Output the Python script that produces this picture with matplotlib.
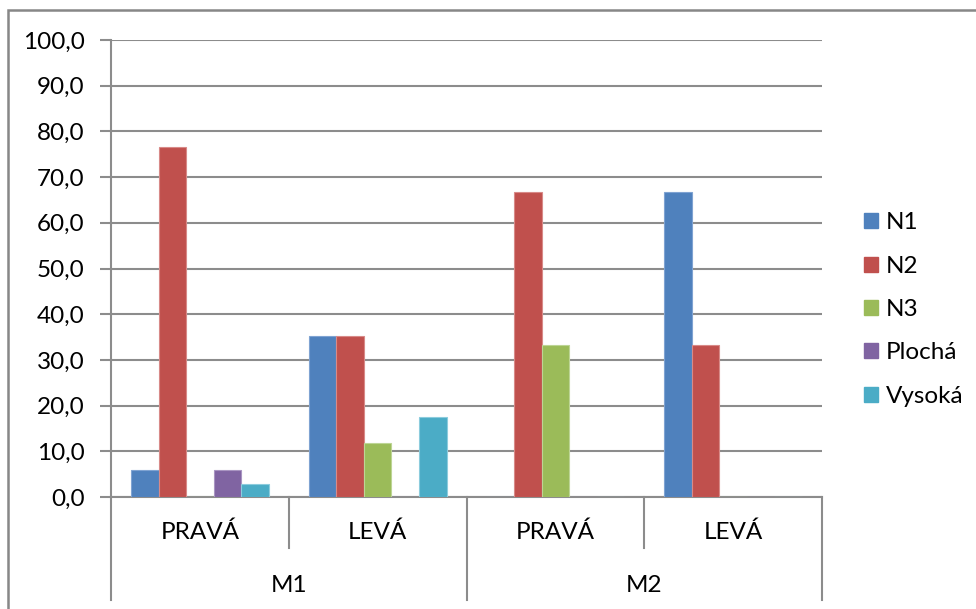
import numpy as np
import matplotlib.pyplot as plt
from matplotlib.patches import Rectangle, Patch
from matplotlib.lines import Line2D

# data
groups = ["M1", "M2"]
sides = ["PRAVÁ", "LEVÁ", "PRAVÁ", "LEVÁ"]
series = ["N1", "N2", "N3", "Plochá", "Vysoká"]
n1 = [5.9, 35.3, 0.0, 66.7]
n2 = [76.5, 35.3, 66.7, 33.3]
n3 = [0.0, 11.8, 33.3, 0.0]
plocha = [5.9, 0.0, 0.0, 0.0]
vysoka = [2.9, 17.6, 0.0, 0.0]
values = [n1, n2, n3, plocha, vysoka]
yticks = np.arange(0, 101, 10)

colors = ["#4F81BD", "#C0504D", "#9BBB59", "#8064A2", "#4BACC6"]
edges = ["#7FA3D2", "#D88A88", "#BDD595", "#A995C2", "#8CCCDD"]
grid_c = "#8C8C8C"

plt.rcParams["font.family"] = ["Lato", "DejaVu Sans"]
FS = 17.5

W, H = 976, 609
fig = plt.figure(figsize=(W / 100, H / 100), dpi=100)

# plot area in pixel terms
left, right, top, bottom = 111, 822, 40, 497
ax = fig.add_axes([left / W, 1 - bottom / H, (right - left) / W, (bottom - top) / H])

x = np.arange(len(sides))
w = 0.155
for i, (vals, c, ec) in enumerate(zip(values, colors, edges)):
    ax.bar(x + (i - 2) * w, vals, width=w, color=c, edgecolor=ec,
           linewidth=0.8, zorder=3, label=series[i])

ax.set_xlim(-0.5, len(sides) - 0.5)
ax.set_ylim(0, 100)
ax.set_yticks(yticks)
ax.set_yticklabels([f"{v:.1f}".replace(".", ",") for v in yticks], fontsize=FS)
ax.yaxis.grid(True, color=grid_c, linewidth=1.5, zorder=0)
ax.tick_params(axis="y", length=8, width=1.5, color=grid_c, pad=11)
ax.set_xticks([])
for s in ["top", "right"]:
    ax.spines[s].set_visible(False)
for s in ["left", "bottom"]:
    ax.spines[s].set_color(grid_c)
    ax.spines[s].set_linewidth(1.5)

# two-level category axis drawn in pixel coordinates
def px(xp, yp):
    return xp / W, 1 - yp / H

step = (right - left) / len(sides)
for k in range(len(sides) + 1):
    xp = left + k * step
    y_end = 600 if k % 2 == 0 else 548
    fig.add_artist(Line2D([xp / W, xp / W], [1 - bottom / H, 1 - y_end / H],
                          color=grid_c, linewidth=1.5))
for k, lab in enumerate(sides):
    fig.text(*px(left + (k + 0.5) * step, 532), lab, ha="center", va="center",
             fontsize=FS)
for k, lab in enumerate(groups):
    fig.text(*px(left + (2 * k + 1) * step, 585), lab, ha="center", va="center",
             fontsize=FS)

# outer chart frame
fig.add_artist(Rectangle(px(8, 640), 1100 / W, 630 / H, fill=False,
                         edgecolor="#878787", linewidth=1.8))

handles = [Patch(facecolor=c, edgecolor=c) for c in colors]
fig.legend(handles, series, loc="center left", bbox_to_anchor=px(864, 309.5),
           frameon=False, fontsize=FS, labelspacing=0.92, handlelength=0.58,
           handleheight=0.58, handletextpad=0.33, borderpad=0, borderaxespad=0)

fig.savefig("out.png", dpi=100)
